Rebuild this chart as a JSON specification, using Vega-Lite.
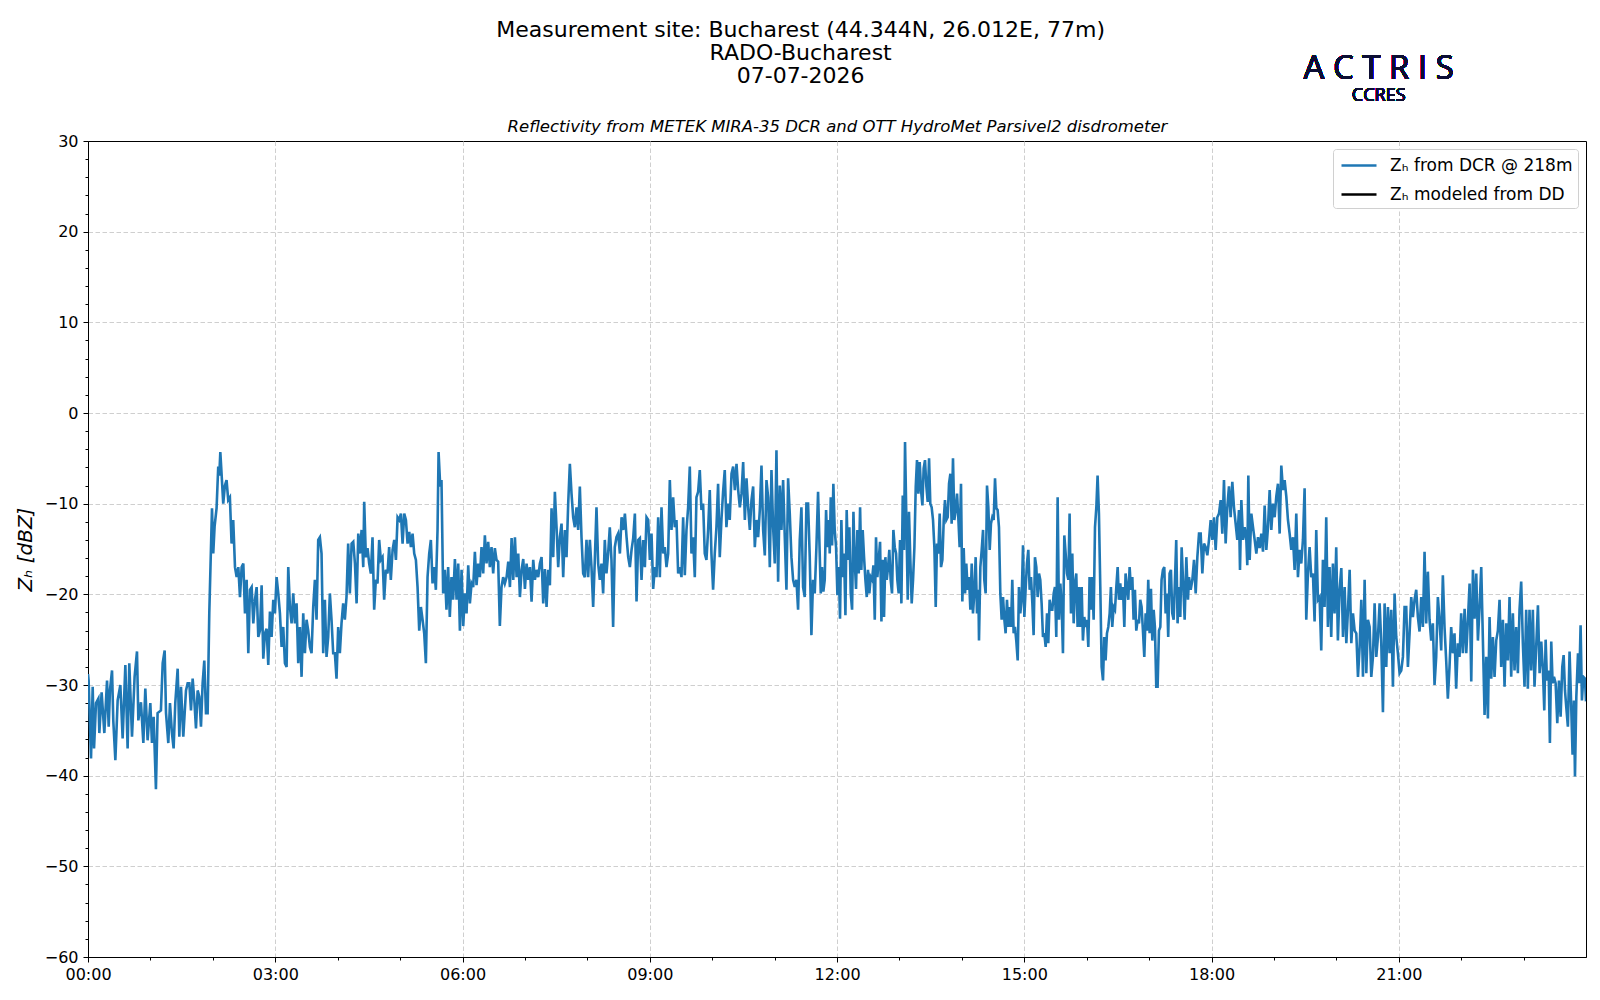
{
  "$schema": "https://vega.github.io/schema/vega-lite/v6.json",
  "width": 1498,
  "height": 816,
  "autosize": "none",
  "padding": {"left": 88, "top": 141, "right": 14, "bottom": 43},
  "background": "white",
  "title": {
    "text": ["Measurement site: Bucharest (44.344N, 26.012E, 77m)", "RADO-Bucharest", "07-07-2026"],
    "anchor": "middle",
    "frame": "bounds",
    "baseline": "bottom",
    "font": "DejaVu Sans",
    "fontSize": 22,
    "fontWeight": "normal",
    "lineHeight": 23,
    "color": "black",
    "offset": -56.5
  },
  "config": {
    "font": "DejaVu Sans",
    "view": {"stroke": "black", "strokeWidth": 1},
    "axis": {
      "labelFont": "DejaVu Sans",
      "titleFont": "DejaVu Sans",
      "labelColor": "black",
      "titleColor": "black",
      "tickColor": "black",
      "domainColor": "black",
      "gridColor": "#cfcfcf",
      "gridDash": [4.5, 2.5],
      "gridWidth": 1
    }
  },
  "data": {
    "values": [
      {"m":0,"v":-28.8},{"m":0.6,"v":-29.5},{"m":2.9,"v":-38.1},{"m":4.5,"v":-30.2},{"m":5.8,"v":-37.0},{"m":7.7,"v":-32.0},{"m":10.0,"v":-31.5},{"m":10.9,"v":-35.3},{"m":13.1,"v":-30.8},{"m":15.7,"v":-35.3},{"m":18.3,"v":-29.5},{"m":19.9,"v":-34.6},{"m":21.1,"v":-30.6},{"m":23.1,"v":-28.4},{"m":24.3,"v":-33.9},{"m":26.3,"v":-38.3},{"m":28.5,"v":-31.7},{"m":31.1,"v":-30.0},{"m":33.3,"v":-35.9},{"m":35.9,"v":-27.8},{"m":38.1,"v":-37.0},{"m":39.7,"v":-27.6},{"m":42.3,"v":-35.7},{"m":44.8,"v":-29.1},{"m":47.1,"v":-26.3},{"m":48.4,"v":-33.9},{"m":50.9,"v":-31.9},{"m":53.2,"v":-36.4},{"m":55.1,"v":-30.4},{"m":57.3,"v":-36.1},{"m":59.9,"v":-32.0},{"m":61.5,"v":-36.4},{"m":63.1,"v":-33.5},{"m":65.3,"v":-41.5},{"m":66.9,"v":-33.1},{"m":70.1,"v":-32.8},{"m":71.8,"v":-27.6},{"m":73.7,"v":-26.2},{"m":75.0,"v":-33.1},{"m":77.2,"v":-36.4},{"m":78.8,"v":-32.0},{"m":80.7,"v":-35.3},{"m":82.3,"v":-37.0},{"m":83.9,"v":-32.0},{"m":86.2,"v":-28.2},{"m":87.8,"v":-35.7},{"m":89.4,"v":-30.2},{"m":91.6,"v":-35.7},{"m":94.2,"v":-30.6},{"m":95.8,"v":-29.8},{"m":97.4,"v":-29.8},{"m":99.0,"v":-32.8},{"m":100.6,"v":-29.3},{"m":102.2,"v":-31.7},{"m":103.8,"v":-34.8},{"m":105.4,"v":-30.6},{"m":107.0,"v":-31.3},{"m":108.6,"v":-34.6},{"m":110.2,"v":-29.8},{"m":111.8,"v":-27.3},{"m":113.4,"v":-33.1},{"m":115.0,"v":-33.1},{"m":116.6,"v":-22.0},
      {"m":119.2,"v":-10.5},{"m":120.4,"v":-15.5},{"m":121.7,"v":-12.5},{"m":123.6,"v":-10.5},{"m":125.2,"v":-5.9},{"m":126.2,"v":-6.9},{"m":127.2,"v":-4.3},{"m":128.4,"v":-6.7},{"m":130.0,"v":-10.0},{"m":131.6,"v":-8.0},{"m":133.2,"v":-7.4},{"m":134.8,"v":-9.6},{"m":136.4,"v":-9.3},{"m":138.0,"v":-14.4},{"m":139.6,"v":-11.8},{"m":141.3,"v":-17.0},{"m":142.9,"v":-18.1},{"m":144.5,"v":-17.0},{"m":146.1,"v":-20.3},{"m":147.7,"v":-17.0},{"m":149.3,"v":-16.6},{"m":150.9,"v":-22.1},{"m":152.5,"v":-18.4},{"m":154.1,"v":-26.5},{"m":155.7,"v":-19.5},{"m":157.3,"v":-19.2},{"m":158.9,"v":-23.2},{"m":160.5,"v":-20.6},{"m":162.1,"v":-19.2},{"m":163.7,"v":-24.7},{"m":165.3,"v":-24.0},{"m":166.9,"v":-19.0},{"m":168.5,"v":-27.1},{"m":170.1,"v":-24.3},{"m":171.7,"v":-23.8},{"m":173.3,"v":-27.8},{"m":174.9,"v":-21.9},{"m":176.5,"v":-24.7},{"m":178.1,"v":-20.6},{"m":179.7,"v":-22.1},{"m":181.3,"v":-18.1},{"m":182.9,"v":-19.9},{"m":184.5,"v":-22.1},{"m":186.1,"v":-25.8},{"m":187.7,"v":-23.6},{"m":189.3,"v":-27.6},{"m":190.9,"v":-28.0},{"m":192.5,"v":-17.0},{"m":194.1,"v":-21.4},{"m":195.7,"v":-23.2},{"m":197.3,"v":-19.9},{"m":198.9,"v":-23.2},{"m":200.5,"v":-21.0},{"m":202.1,"v":-27.6},{"m":203.7,"v":-23.6},{"m":205.3,"v":-29.1},{"m":206.9,"v":-22.1},{"m":208.5,"v":-26.5},{"m":210.1,"v":-22.8},{"m":211.7,"v":-24.0},{"m":213.3,"v":-25.8},{"m":214.9,"v":-26.5},{"m":216.5,"v":-21.4},{"m":218.1,"v":-18.4},{"m":219.7,"v":-22.8},{"m":221.3,"v":-14.0},{"m":222.9,"v":-13.7},{"m":224.5,"v":-15.5},{"m":226.1,"v":-26.5},{"m":227.7,"v":-20.6},{"m":229.3,"v":-26.9},{"m":230.9,"v":-24.7},{"m":232.5,"v":-19.9},{"m":234.1,"v":-22.8},{"m":235.7,"v":-26.5},{"m":237.3,"v":-26.5},{"m":238.9,"v":-29.3},{"m":240.5,"v":-23.6},{"m":242.1,"v":-26.5},{"m":243.7,"v":-23.2},{"m":245.3,"v":-21.0},{"m":246.9,"v":-22.8},{"m":248.5,"v":-20.3},{"m":250.1,"v":-14.4},{"m":251.7,"v":-19.9},{"m":253.4,"v":-14.4},{"m":255.0,"v":-14.2},{"m":256.6,"v":-16.6},{"m":258.2,"v":-21.0},{"m":259.8,"v":-13.3},{"m":261.4,"v":-15.5},{"m":263.0,"v":-12.9},{"m":264.6,"v":-17.0},{"m":265.5,"v":-9.8},{"m":267.1,"v":-15.9},{"m":268.7,"v":-14.9},{"m":270.3,"v":-16.6},{"m":271.9,"v":-17.7},{"m":273.5,"v":-13.7},{"m":275.1,"v":-21.7},{"m":276.7,"v":-18.4},{"m":278.3,"v":-18.8},{"m":279.9,"v":-14.0},{"m":281.5,"v":-16.2},{"m":283.1,"v":-15.9},{"m":284.7,"v":-20.6},{"m":286.3,"v":-17.3},{"m":287.9,"v":-17.7},{"m":289.5,"v":-14.8},{"m":291.1,"v":-18.4},{"m":292.8,"v":-15.1},{"m":294.4,"v":-14.0},{"m":296.0,"v":-16.2},{"m":297.6,"v":-11.5},{"m":299.2,"v":-11.8},{"m":300.8,"v":-11.1},{"m":302.4,"v":-14.4},{"m":304.0,"v":-11.1},{"m":305.6,"v":-11.8},{"m":307.2,"v":-14.4},{"m":308.8,"v":-13.1},{"m":310.4,"v":-14.8},{"m":312.0,"v":-13.3},{"m":313.6,"v":-15.5},{"m":315.2,"v":-16.2},{"m":316.8,"v":-19.2},{"m":318.4,"v":-24.0},{"m":320.0,"v":-21.4},{"m":321.6,"v":-22.8},{"m":323.2,"v":-24.3},{"m":324.8,"v":-27.6},{"m":326.4,"v":-18.1},{"m":328.0,"v":-15.5},{"m":329.6,"v":-14.0},{"m":331.2,"v":-18.8},{"m":332.8,"v":-17.0},{"m":334.4,"v":-19.5},{"m":336.0,"v":-12.9},{"m":337.0,"v":-4.3},{"m":338.6,"v":-8.1},{"m":339.8,"v":-7.4},{"m":341.4,"v":-19.9},{"m":343.0,"v":-17.3},{"m":344.6,"v":-21.7},{"m":346.2,"v":-17.0},{"m":347.8,"v":-22.5},{"m":349.4,"v":-18.1},{"m":351.0,"v":-20.6},
      {"m":352.7,"v":-16.1},{"m":354.3,"v":-20.6},{"m":355.9,"v":-16.6},{"m":357.5,"v":-24.0},{"m":359.1,"v":-17.3},{"m":360.7,"v":-23.5},{"m":362.3,"v":-19.9},{"m":363.9,"v":-22.1},{"m":365.5,"v":-16.8},{"m":367.1,"v":-21.0},{"m":368.7,"v":-18.8},{"m":370.3,"v":-19.2},{"m":371.9,"v":-15.3},{"m":373.5,"v":-19.0},{"m":375.1,"v":-16.6},{"m":376.7,"v":-18.1},{"m":378.3,"v":-14.8},{"m":379.9,"v":-17.7},{"m":381.5,"v":-13.5},{"m":383.1,"v":-16.6},{"m":384.7,"v":-14.2},{"m":386.3,"v":-17.0},{"m":387.9,"v":-14.8},{"m":389.5,"v":-17.7},{"m":391.1,"v":-14.9},{"m":392.7,"v":-16.2},{"m":394.3,"v":-16.4},{"m":395.9,"v":-23.5},{"m":397.5,"v":-19.2},{"m":399.1,"v":-18.1},{"m":400.7,"v":-18.8},{"m":402.4,"v":-18.1},{"m":404.0,"v":-16.4},{"m":405.6,"v":-19.2},{"m":407.2,"v":-13.8},{"m":408.8,"v":-18.4},{"m":410.4,"v":-13.7},{"m":412.0,"v":-18.1},{"m":413.6,"v":-15.5},{"m":415.2,"v":-20.3},{"m":416.8,"v":-17.3},{"m":418.4,"v":-16.1},{"m":420.0,"v":-19.4},{"m":421.6,"v":-16.6},{"m":423.2,"v":-18.4},{"m":424.8,"v":-17.0},{"m":426.4,"v":-20.8},{"m":428.0,"v":-16.2},{"m":429.6,"v":-18.4},{"m":431.2,"v":-17.3},{"m":432.8,"v":-18.1},{"m":434.4,"v":-16.6},{"m":436.0,"v":-15.9},{"m":437.6,"v":-21.0},{"m":439.2,"v":-17.2},{"m":440.8,"v":-21.4},{"m":442.4,"v":-17.3},{"m":444.0,"v":-19.0},{"m":445.6,"v":-10.5},{"m":447.2,"v":-15.9},{"m":448.8,"v":-8.7},{"m":450.4,"v":-12.6},{"m":452.0,"v":-17.0},{"m":453.6,"v":-13.7},{"m":455.2,"v":-12.2},{"m":456.8,"v":-18.1},{"m":458.4,"v":-12.9},{"m":460.0,"v":-15.9},{"m":461.6,"v":-10.0},{"m":463.2,"v":-5.6},{"m":464.8,"v":-8.9},{"m":466.4,"v":-11.5},{"m":468.0,"v":-12.6},{"m":469.6,"v":-10.4},{"m":471.2,"v":-12.9},{"m":472.8,"v":-8.1},{"m":474.4,"v":-13.7},{"m":476.0,"v":-17.7},{"m":477.6,"v":-18.1},{"m":479.2,"v":-14.0},{"m":480.8,"v":-18.1},{"m":482.4,"v":-14.0},{"m":484.0,"v":-17.0},{"m":485.6,"v":-21.4},{"m":487.2,"v":-16.2},{"m":488.8,"v":-10.4},{"m":490.4,"v":-16.6},{"m":492.0,"v":-18.4},{"m":493.6,"v":-16.6},{"m":495.2,"v":-19.9},{"m":496.8,"v":-14.0},{"m":498.4,"v":-17.7},{"m":500.0,"v":-15.5},{"m":501.6,"v":-12.6},{"m":503.2,"v":-16.2},{"m":504.8,"v":-23.6},{"m":506.4,"v":-14.8},{"m":508.0,"v":-13.7},{"m":509.6,"v":-13.3},{"m":511.3,"v":-15.5},{"m":512.9,"v":-11.5},{"m":514.5,"v":-12.9},{"m":516.1,"v":-11.1},{"m":517.7,"v":-13.7},{"m":519.3,"v":-15.9},{"m":520.9,"v":-17.0},{"m":522.5,"v":-15.1},{"m":524.1,"v":-13.8},{"m":525.7,"v":-11.1},{"m":527.3,"v":-20.8},{"m":528.9,"v":-14.0},{"m":530.5,"v":-13.8},{"m":532.1,"v":-18.4},{"m":533.7,"v":-14.0},{"m":535.3,"v":-17.0},{"m":536.9,"v":-11.5},{"m":538.5,"v":-11.8},{"m":540.1,"v":-16.2},{"m":541.7,"v":-13.3},{"m":543.3,"v":-19.4},{"m":544.9,"v":-17.0},{"m":546.5,"v":-18.1},{"m":548.1,"v":-11.5},{"m":549.7,"v":-18.1},{"m":551.3,"v":-10.4},{"m":552.9,"v":-15.5},{"m":554.5,"v":-14.8},{"m":556.1,"v":-17.0},{"m":557.7,"v":-15.5},{"m":559.3,"v":-7.4},{"m":560.9,"v":-12.9},{"m":562.5,"v":-9.3},{"m":564.1,"v":-12.6},{"m":565.7,"v":-11.8},{"m":567.3,"v":-17.7},{"m":568.9,"v":-17.0},{"m":570.5,"v":-18.1},{"m":572.1,"v":-11.5},{"m":573.7,"v":-17.9},{"m":575.3,"v":-12.9},{"m":576.9,"v":-10.4},{"m":578.5,"v":-5.9},{"m":580.1,"v":-15.5},{"m":581.7,"v":-13.7},{"m":583.3,"v":-18.1},{"m":584.9,"v":-9.3},{"m":586.5,"v":-8.7},{"m":588.1,"v":-6.3},{"m":589.7,"v":-10.7},{"m":591.3,"v":-10.0},{"m":592.9,"v":-15.5},{"m":594.5,"v":-16.2},{"m":596.1,"v":-12.9},{"m":597.7,"v":-8.5},{"m":599.3,"v":-15.5},{"m":600.9,"v":-19.5},{"m":602.5,"v":-15.5},{"m":604.1,"v":-12.6},{"m":605.7,"v":-7.8},{"m":607.3,"v":-15.9},{"m":608.9,"v":-11.8},{"m":610.5,"v":-8.7},{"m":612.1,"v":-6.3},{"m":613.7,"v":-12.6},{"m":615.3,"v":-10.0},{"m":616.9,"v":-11.8},{"m":618.6,"v":-6.7},{"m":620.2,"v":-5.9},{"m":621.8,"v":-8.5},{"m":623.4,"v":-5.6},{"m":625.0,"v":-8.5},{"m":626.6,"v":-10.4},{"m":628.2,"v":-8.9},{"m":629.8,"v":-5.4},{"m":631.4,"v":-11.8},{"m":633.0,"v":-7.2},{"m":634.6,"v":-10.4},{"m":636.2,"v":-12.9},{"m":637.8,"v":-9.6},{"m":639.4,"v":-8.1},{"m":641.0,"v":-14.8},{"m":642.6,"v":-11.8},{"m":644.2,"v":-13.7},{"m":645.8,"v":-10.7},{"m":647.4,"v":-5.8},{"m":649.0,"v":-12.9},{"m":650.6,"v":-15.7},{"m":652.2,"v":-7.4},{"m":653.8,"v":-9.3},{"m":655.4,"v":-17.0},{"m":657.0,"v":-6.3},{"m":658.6,"v":-12.6},{"m":660.2,"v":-16.6},{"m":661.8,"v":-4.1},{"m":663.4,"v":-18.6},{"m":665.0,"v":-8.0},{"m":666.6,"v":-12.9},{"m":668.2,"v":-7.4},{"m":669.8,"v":-13.7},{"m":671.4,"v":-19.5},{"m":673.0,"v":-7.2},{"m":674.6,"v":-11.1},{"m":676.2,"v":-15.9},{"m":677.8,"v":-18.4},{"m":679.4,"v":-19.2},{"m":681.0,"v":-18.4},{"m":682.6,"v":-21.7},{"m":684.2,"v":-14.0},{"m":685.8,"v":-10.4},{"m":687.4,"v":-19.2},{"m":689.0,"v":-20.3},{"m":690.6,"v":-10.0},{"m":692.2,"v":-10.0},{"m":693.8,"v":-15.9},{"m":695.4,"v":-24.5},{"m":697.0,"v":-18.4},{"m":698.6,"v":-19.9},{"m":700.2,"v":-14.8},{"m":701.8,"v":-8.7},
      {"m":704.4,"v":-19.9},{"m":705.6,"v":-17.0},{"m":706.9,"v":-19.7},{"m":708.2,"v":-18.4},{"m":709.5,"v":-10.7},{"m":710.8,"v":-14.8},{"m":712.1,"v":-11.8},{"m":713.0,"v":-15.5},{"m":714.0,"v":-9.3},{"m":715.3,"v":-14.6},{"m":716.5,"v":-7.8},{"m":717.8,"v":-12.9},{"m":719.1,"v":-14.8},{"m":720.4,"v":-20.1},{"m":721.7,"v":-17.0},{"m":722.9,"v":-22.7},{"m":724.2,"v":-11.8},{"m":725.5,"v":-18.1},{"m":726.8,"v":-15.5},{"m":728.1,"v":-22.3},{"m":729.3,"v":-10.7},{"m":730.6,"v":-16.2},{"m":731.9,"v":-12.6},{"m":733.2,"v":-19.9},{"m":734.5,"v":-21.7},{"m":735.8,"v":-10.9},{"m":737.0,"v":-16.2},{"m":738.3,"v":-19.4},{"m":739.6,"v":-12.9},{"m":740.9,"v":-17.7},{"m":742.2,"v":-10.4},{"m":743.4,"v":-17.3},{"m":744.7,"v":-12.9},{"m":746.0,"v":-15.9},{"m":747.3,"v":-18.4},{"m":748.6,"v":-20.3},{"m":749.8,"v":-17.3},{"m":751.1,"v":-19.9},{"m":752.4,"v":-18.1},{"m":753.7,"v":-18.4},{"m":755.0,"v":-16.8},{"m":756.3,"v":-22.8},{"m":757.5,"v":-13.7},{"m":758.8,"v":-18.1},{"m":760.1,"v":-16.2},{"m":761.4,"v":-14.2},{"m":762.7,"v":-23.0},{"m":763.9,"v":-16.2},{"m":765.2,"v":-22.5},{"m":766.5,"v":-15.9},{"m":767.8,"v":-18.4},{"m":769.1,"v":-17.0},{"m":770.3,"v":-15.1},{"m":771.6,"v":-18.4},{"m":772.9,"v":-19.9},{"m":774.2,"v":-12.9},{"m":775.5,"v":-14.8},{"m":776.8,"v":-15.5},{"m":778.0,"v":-18.4},{"m":779.3,"v":-19.9},{"m":780.6,"v":-14.0},{"m":781.9,"v":-21.0},{"m":783.2,"v":-9.1},{"m":784.4,"v":-15.1},{"m":785.4,"v":-3.2},{"m":786.7,"v":-11.8},{"m":788.0,"v":-20.6},{"m":789.2,"v":-10.9},{"m":790.5,"v":-16.2},{"m":791.8,"v":-21.0},{"m":793.1,"v":-18.4},{"m":794.4,"v":-14.8},{"m":795.7,"v":-8.1},{"m":796.9,"v":-5.2},{"m":798.2,"v":-8.9},{"m":799.5,"v":-5.4},{"m":800.8,"v":-8.5},{"m":802.1,"v":-10.2},{"m":803.3,"v":-6.1},{"m":804.6,"v":-5.2},{"m":805.9,"v":-8.1},{"m":807.2,"v":-9.8},{"m":808.5,"v":-5.0},{"m":809.7,"v":-10.0},{"m":811.0,"v":-10.4},{"m":812.3,"v":-11.8},{"m":813.6,"v":-14.8},{"m":814.9,"v":-21.4},{"m":816.1,"v":-14.4},{"m":817.4,"v":-15.5},{"m":818.7,"v":-11.1},{"m":820.0,"v":-17.0},{"m":821.3,"v":-16.2},{"m":822.6,"v":-11.8},{"m":823.8,"v":-9.6},{"m":825.1,"v":-11.8},{"m":826.4,"v":-11.5},{"m":827.7,"v":-7.8},{"m":829.0,"v":-6.7},{"m":830.2,"v":-12.2},{"m":831.5,"v":-5.0},{"m":832.8,"v":-11.8},{"m":834.1,"v":-10.7},{"m":835.4,"v":-8.9},{"m":836.6,"v":-11.5},{"m":837.9,"v":-14.8},{"m":839.2,"v":-7.8},{"m":840.5,"v":-20.8},{"m":841.8,"v":-14.9},{"m":843.1,"v":-19.9},{"m":844.3,"v":-16.6},{"m":845.6,"v":-19.5},{"m":846.9,"v":-18.1},{"m":848.2,"v":-21.7},{"m":849.5,"v":-16.6},{"m":850.7,"v":-22.1},{"m":852.0,"v":-19.9},{"m":853.3,"v":-15.9},{"m":854.6,"v":-22.1},{"m":855.9,"v":-19.5},{"m":856.5,"v":-25.1},{"m":857.8,"v":-17.0},{"m":859.1,"v":-15.1},{"m":860.4,"v":-12.9},{"m":861.6,"v":-18.4},{"m":862.9,"v":-19.9},{"m":864.2,"v":-8.0},{"m":865.5,"v":-10.4},{"m":866.8,"v":-15.1},{"m":868.0,"v":-12.2},{"m":869.3,"v":-11.5},{"m":870.6,"v":-11.8},{"m":871.9,"v":-7.2},{"m":873.2,"v":-10.5},{"m":874.4,"v":-10.7},{"m":875.7,"v":-12.6},{"m":877.0,"v":-19.9},{"m":878.3,"v":-22.8},{"m":879.6,"v":-20.3},{"m":880.9,"v":-22.8},{"m":882.1,"v":-24.3},{"m":883.4,"v":-20.6},{"m":884.7,"v":-23.6},{"m":886.0,"v":-21.4},{"m":887.3,"v":-23.6},{"m":888.5,"v":-18.4},{"m":889.8,"v":-24.3},{"m":891.1,"v":-23.6},{"m":892.4,"v":-25.2},{"m":893.7,"v":-27.3},{"m":894.9,"v":-19.2},{"m":896.2,"v":-22.1},{"m":897.5,"v":-20.6},{"m":898.8,"v":-14.6},{"m":900.1,"v":-22.5},{"m":901.4,"v":-19.2},{"m":902.6,"v":-16.6},{"m":903.9,"v":-15.1},{"m":905.2,"v":-19.5},{"m":906.5,"v":-18.1},{"m":907.8,"v":-21.0},{"m":909.0,"v":-24.5},{"m":910.3,"v":-15.9},{"m":911.6,"v":-17.0},{"m":912.9,"v":-20.3},{"m":914.2,"v":-17.7},{"m":915.4,"v":-18.4},{"m":916.7,"v":-21.0},{"m":918.0,"v":-24.7},{"m":919.3,"v":-24.3},{"m":920.6,"v":-25.8},{"m":921.9,"v":-22.1},{"m":923.1,"v":-25.4},{"m":924.4,"v":-20.6},{"m":925.7,"v":-21.7},{"m":927.0,"v":-21.7},{"m":928.3,"v":-19.9},{"m":929.5,"v":-19.2},{"m":930.8,"v":-24.7},{"m":932.1,"v":-9.3},{"m":933.4,"v":-22.8},{"m":934.7,"v":-18.8},{"m":936.0,"v":-21.4},{"m":937.2,"v":-26.5},{"m":938.5,"v":-13.5},{"m":939.8,"v":-15.5},{"m":941.1,"v":-17.7},{"m":942.4,"v":-18.4},{"m":943.6,"v":-11.1},{"m":944.9,"v":-22.1},{"m":946.2,"v":-15.5},{"m":947.5,"v":-23.2},{"m":948.8,"v":-18.8},{"m":950.0,"v":-17.7},{"m":951.3,"v":-23.6},{"m":952.6,"v":-19.2},{"m":953.9,"v":-23.6},{"m":955.2,"v":-19.2},{"m":956.4,"v":-25.1},{"m":957.7,"v":-22.5},{"m":959.0,"v":-23.6},{"m":960.3,"v":-22.8},{"m":961.6,"v":-25.8},{"m":962.8,"v":-18.1},{"m":964.1,"v":-21.7},{"m":965.4,"v":-18.1},{"m":966.7,"v":-22.8},{"m":968.0,"v":-12.6},{"m":969.3,"v":-10.4},{"m":970.5,"v":-6.9},{"m":971.8,"v":-11.1},{"m":973.1,"v":-19.2},{"m":974.4,"v":-28.0},{"m":975.7,"v":-29.5},{"m":976.9,"v":-24.7},{"m":978.2,"v":-27.3},{"m":979.5,"v":-24.3},{"m":980.8,"v":-23.6},{"m":982.1,"v":-22.1},{"m":983.3,"v":-19.2},{"m":984.6,"v":-23.6},{"m":985.9,"v":-21.4},{"m":987.2,"v":-21.7},{"m":988.5,"v":-19.2},{"m":989.8,"v":-17.0},{"m":991.0,"v":-20.6},{"m":992.3,"v":-18.8},{"m":993.6,"v":-20.6},{"m":994.9,"v":-19.2},{"m":996.2,"v":-23.6},{"m":997.4,"v":-17.7},{"m":998.7,"v":-19.2},{"m":1000.0,"v":-20.6},{"m":1001.3,"v":-17.0},{"m":1002.6,"v":-19.5},{"m":1003.9,"v":-18.1},{"m":1005.1,"v":-22.8},{"m":1006.4,"v":-19.5},{"m":1007.7,"v":-24.0},{"m":1009.0,"v":-22.8},{"m":1010.3,"v":-23.2},{"m":1011.5,"v":-20.6},{"m":1012.8,"v":-21.4},{"m":1014.1,"v":-24.0},{"m":1015.4,"v":-26.9},{"m":1016.7,"v":-22.1},{"m":1017.9,"v":-24.0},{"m":1019.2,"v":-18.4},{"m":1020.5,"v":-24.3},{"m":1021.8,"v":-19.4},{"m":1023.1,"v":-25.1},{"m":1024.4,"v":-21.7},{"m":1025.6,"v":-23.6},{"m":1026.9,"v":-30.2},{"m":1028.2,"v":-30.2},{"m":1029.5,"v":-24.0},{"m":1030.8,"v":-23.6},{"m":1032.0,"v":-18.4},{"m":1033.3,"v":-17.3},{"m":1034.6,"v":-17.0},{"m":1035.9,"v":-22.1},{"m":1037.2,"v":-19.9},{"m":1038.4,"v":-24.7},{"m":1039.7,"v":-17.7},{"m":1041.0,"v":-17.3},{"m":1042.3,"v":-22.1},{"m":1043.6,"v":-22.8},{"m":1044.9,"v":-18.4},{"m":1046.1,"v":-14.0},{"m":1047.4,"v":-23.2},{"m":1048.7,"v":-19.2},{"m":1050.0,"v":-22.5},{"m":1051.3,"v":-14.8},
      {"m":1054.2,"v":-22.8},{"m":1055.8,"v":-15.9},{"m":1057.4,"v":-20.6},{"m":1058.4,"v":-18.1},{"m":1060.0,"v":-19.5},{"m":1061.6,"v":-18.4},{"m":1063.2,"v":-16.2},{"m":1064.8,"v":-19.9},{"m":1066.4,"v":-15.9},{"m":1068.0,"v":-13.3},{"m":1069.6,"v":-13.3},{"m":1071.2,"v":-17.7},{"m":1072.8,"v":-14.4},{"m":1074.4,"v":-14.8},{"m":1076.0,"v":-15.7},{"m":1077.6,"v":-14.0},{"m":1079.2,"v":-11.8},{"m":1080.8,"v":-14.0},{"m":1082.4,"v":-11.5},{"m":1084.0,"v":-15.1},{"m":1085.6,"v":-11.5},{"m":1087.2,"v":-11.1},{"m":1088.8,"v":-9.6},{"m":1090.4,"v":-13.3},{"m":1092.0,"v":-7.4},{"m":1093.6,"v":-14.4},{"m":1095.2,"v":-10.4},{"m":1096.8,"v":-8.1},{"m":1098.4,"v":-11.5},{"m":1100.0,"v":-7.6},{"m":1101.6,"v":-10.4},{"m":1103.2,"v":-12.2},{"m":1104.8,"v":-14.0},{"m":1106.4,"v":-10.7},{"m":1107.4,"v":-17.3},{"m":1108.7,"v":-9.6},{"m":1110.3,"v":-14.0},{"m":1111.9,"v":-12.6},{"m":1113.5,"v":-14.0},{"m":1114.4,"v":-16.8},{"m":1115.4,"v":-6.9},{"m":1116.7,"v":-16.2},{"m":1118.3,"v":-11.1},{"m":1119.9,"v":-12.6},{"m":1121.5,"v":-14.0},{"m":1123.1,"v":-15.5},{"m":1124.7,"v":-13.7},{"m":1126.3,"v":-14.9},{"m":1127.9,"v":-13.3},{"m":1129.5,"v":-15.3},{"m":1131.1,"v":-10.2},{"m":1132.7,"v":-15.1},{"m":1134.3,"v":-12.6},{"m":1135.9,"v":-8.5},{"m":1137.5,"v":-12.9},{"m":1139.1,"v":-10.0},{"m":1140.7,"v":-11.5},{"m":1142.3,"v":-9.2},{"m":1143.9,"v":-7.8},{"m":1145.5,"v":-13.3},{"m":1147.1,"v":-5.8},{"m":1148.7,"v":-8.5},{"m":1150.3,"v":-7.4},{"m":1151.9,"v":-9.2},{"m":1153.5,"v":-11.8},{"m":1155.1,"v":-13.3},{"m":1156.7,"v":-15.1},{"m":1158.3,"v":-13.7},{"m":1159.9,"v":-17.3},{"m":1161.5,"v":-11.1},{"m":1163.1,"v":-18.1},{"m":1164.7,"v":-15.1},{"m":1166.3,"v":-16.6},{"m":1167.9,"v":-14.0},{"m":1169.5,"v":-8.3},{"m":1171.1,"v":-22.8},{"m":1172.7,"v":-17.7},{"m":1174.3,"v":-14.8},{"m":1175.9,"v":-18.1},{"m":1177.5,"v":-17.7},{"m":1179.1,"v":-23.0},{"m":1180.7,"v":-12.9},{"m":1182.3,"v":-20.6},{"m":1183.9,"v":-20.3},{"m":1185.5,"v":-26.2},{"m":1187.1,"v":-16.2},{"m":1188.7,"v":-21.4},{"m":1190.3,"v":-11.5},{"m":1191.9,"v":-23.6},{"m":1193.5,"v":-17.0},{"m":1195.1,"v":-24.7},{"m":1196.7,"v":-16.6},{"m":1198.3,"v":-22.1},{"m":1199.9,"v":-14.8},{"m":1201.5,"v":-25.1},{"m":1203.1,"v":-19.5},{"m":1204.8,"v":-17.1},{"m":1206.4,"v":-24.7},{"m":1208.0,"v":-19.2},{"m":1209.6,"v":-25.4},{"m":1211.2,"v":-21.7},{"m":1212.8,"v":-17.3},{"m":1214.4,"v":-25.4},{"m":1216.0,"v":-22.1},{"m":1217.6,"v":-24.0},{"m":1219.2,"v":-24.3},{"m":1220.8,"v":-29.1},{"m":1222.4,"v":-25.8},{"m":1224.0,"v":-20.6},{"m":1225.6,"v":-29.1},{"m":1227.2,"v":-18.4},{"m":1228.8,"v":-28.7},{"m":1230.4,"v":-22.8},{"m":1232.0,"v":-23.6},{"m":1233.6,"v":-29.1},{"m":1235.2,"v":-26.9},{"m":1236.8,"v":-21.0},{"m":1238.4,"v":-26.9},{"m":1240.0,"v":-24.7},{"m":1241.6,"v":-21.0},{"m":1243.2,"v":-25.4},{"m":1244.8,"v":-33.0},{"m":1246.4,"v":-21.0},{"m":1248.0,"v":-28.0},{"m":1249.6,"v":-21.4},{"m":1251.2,"v":-26.5},{"m":1252.8,"v":-21.7},{"m":1254.4,"v":-30.2},{"m":1256.0,"v":-19.9},{"m":1257.6,"v":-24.7},{"m":1259.2,"v":-26.5},{"m":1260.8,"v":-28.7},{"m":1262.4,"v":-28.4},{"m":1264.0,"v":-26.9},{"m":1265.6,"v":-21.4},{"m":1267.2,"v":-21.4},{"m":1268.8,"v":-28.0},{"m":1270.4,"v":-24.3},{"m":1272.0,"v":-20.3},{"m":1273.6,"v":-22.5},{"m":1275.2,"v":-20.6},{"m":1276.8,"v":-19.5},{"m":1278.4,"v":-22.5},{"m":1280.0,"v":-24.1},{"m":1281.6,"v":-20.3},{"m":1283.2,"v":-23.6},{"m":1284.8,"v":-15.3},{"m":1286.4,"v":-23.2},{"m":1288.0,"v":-17.5},{"m":1289.6,"v":-22.8},{"m":1291.2,"v":-25.1},{"m":1292.8,"v":-23.2},{"m":1294.4,"v":-30.0},{"m":1296.0,"v":-26.9},{"m":1297.6,"v":-20.3},{"m":1299.2,"v":-22.8},{"m":1300.8,"v":-26.2},{"m":1302.4,"v":-17.9},{"m":1304.0,"v":-23.6},{"m":1305.6,"v":-27.3},{"m":1307.2,"v":-31.5},{"m":1308.8,"v":-28.0},{"m":1310.4,"v":-23.6},{"m":1312.0,"v":-26.5},{"m":1313.6,"v":-24.3},{"m":1315.2,"v":-30.4},{"m":1316.8,"v":-25.4},{"m":1318.4,"v":-26.9},{"m":1320.0,"v":-22.1},{"m":1321.6,"v":-26.5},{"m":1323.3,"v":-21.6},{"m":1324.9,"v":-26.5},{"m":1326.5,"v":-22.8},{"m":1328.1,"v":-18.8},{"m":1329.7,"v":-29.6},{"m":1331.3,"v":-17.3},{"m":1332.9,"v":-22.7},{"m":1334.5,"v":-17.7},{"m":1336.1,"v":-25.1},{"m":1337.7,"v":-21.4},{"m":1339.3,"v":-17.0},{"m":1340.9,"v":-25.1},{"m":1342.5,"v":-33.3},{"m":1344.1,"v":-26.9},{"m":1345.7,"v":-33.7},{"m":1347.3,"v":-22.5},{"m":1348.9,"v":-29.3},{"m":1350.5,"v":-24.7},{"m":1352.1,"v":-29.1},{"m":1353.7,"v":-25.1},{"m":1355.3,"v":-24.0},{"m":1356.9,"v":-20.6},{"m":1358.5,"v":-28.0},{"m":1360.1,"v":-22.8},{"m":1361.7,"v":-30.2},{"m":1363.3,"v":-23.2},{"m":1364.9,"v":-27.3},{"m":1366.5,"v":-20.3},{"m":1368.1,"v":-29.1},{"m":1369.7,"v":-22.1},{"m":1371.3,"v":-28.4},{"m":1372.9,"v":-23.6},{"m":1374.5,"v":-28.7},{"m":1376.1,"v":-21.7},{"m":1377.7,"v":-18.6},{"m":1379.3,"v":-25.4},{"m":1380.9,"v":-30.2},{"m":1382.5,"v":-21.7},{"m":1384.1,"v":-30.4},{"m":1385.7,"v":-21.7},{"m":1387.3,"v":-28.4},{"m":1388.9,"v":-21.7},{"m":1390.5,"v":-30.2},
      {"m":1393.8,"v":-21.2},{"m":1395.4,"v":-28.7},{"m":1397.0,"v":-25.2},{"m":1398.6,"v":-28.4},{"m":1399.9,"v":-32.8},{"m":1401.2,"v":-25.0},{"m":1402.5,"v":-29.5},{"m":1404.1,"v":-28.4},{"m":1405.3,"v":-36.4},{"m":1406.6,"v":-25.2},{"m":1407.9,"v":-29.8},{"m":1409.2,"v":-29.1},{"m":1410.8,"v":-29.8},{"m":1412.4,"v":-34.2},{"m":1414.0,"v":-29.5},{"m":1415.6,"v":-33.5},{"m":1417.2,"v":-28.0},{"m":1418.5,"v":-26.7},{"m":1419.8,"v":-30.6},{"m":1421.0,"v":-32.4},{"m":1422.6,"v":-34.6},{"m":1424.2,"v":-26.3},{"m":1425.8,"v":-32.4},{"m":1427.1,"v":-37.7},{"m":1428.4,"v":-31.7},{"m":1429.4,"v":-40.1},{"m":1430.7,"v":-31.3},{"m":1432.3,"v":-26.5},{"m":1433.5,"v":-29.8},{"m":1434.8,"v":-23.4},{"m":1436.1,"v":-31.7},{"m":1437.4,"v":-29.1},{"m":1439.0,"v":-29.3},{"m":1440,"v":-31.8}
    ]
  },
  "layer": [
    {
      "mark": {"type": "line", "strokeWidth": 2.6, "clip": true},
      "encoding": {
        "x": {
          "field": "m",
          "type": "quantitative",
          "scale": {"domain": [0, 1440], "nice": false, "zero": false},
          "axis": {
            "orient": "bottom",
            "title": null,
            "values": [0,60,120,180,240,300,360,420,480,540,600,660,720,780,840,900,960,1020,1080,1140,1200,1260,1320,1380],
            "tickCount": 100,
            "labelExpr": "datum.value % 180 === 0 ? utcFormat(datum.value * 60000, '%H:%M') : ''",
            "labelFontSize": 16,
            "labelPadding": 4,
            "labelOverlap": false,
            "labelFlush": false,
            "tickSize": {"condition": {"test": "datum.value % 180 === 0", "value": 5}, "value": 3},
            "grid": true,
            "gridOpacity": {"condition": {"test": "datum.value % 180 === 0 && datum.value > 0", "value": 1}, "value": 0}
          }
        },
        "y": {
          "field": "v",
          "type": "quantitative",
          "scale": {"domain": [-60, 30], "nice": false, "zero": false},
          "axis": {
            "title": "Zₕ [dBZ]",
            "titleFontSize": 20,
            "titleFontStyle": "italic",
            "titleFontWeight": "normal",
            "titlePadding": 9,
            "values": [-60,-58,-56,-54,-52,-50,-48,-46,-44,-42,-40,-38,-36,-34,-32,-30,-28,-26,-24,-22,-20,-18,-16,-14,-12,-10,-8,-6,-4,-2,0,2,4,6,8,10,12,14,16,18,20,22,24,26,28,30],
            "tickCount": 100,
            "labelExpr": "datum.value % 10 === 0 ? datum.label : ''",
            "labelFontSize": 16,
            "labelPadding": 5,
            "labelOverlap": false,
            "labelFlush": false,
            "tickSize": {"condition": {"test": "datum.value % 10 === 0", "value": 5}, "value": 3},
            "grid": true,
            "gridOpacity": {"condition": {"test": "datum.value % 10 === 0 && datum.value > -60 && datum.value < 30", "value": 1}, "value": 0}
          }
        },
        "color": {
          "datum": "Zₕ from DCR @ 218m",
          "type": "nominal",
          "scale": {"domain": ["Zₕ from DCR @ 218m", "Zₕ modeled from DD"], "range": ["#1f77b4", "#000000"]},
          "legend": {
            "title": null,
            "orient": "top-right",
            "offset": 8,
            "symbolType": "M-0.8,0H2.7",
            "symbolSize": 400,
            "symbolStrokeWidth": 2.5,
            "labelFontSize": 17,
            "labelColor": "black",
            "labelOffset": 29,
            "labelLimit": 400,
            "rowPadding": 9,
            "padding": 5,
            "strokeColor": "#d0d0d0",
            "fillColor": "white",
            "cornerRadius": 3
          }
        }
      }
    },
    {
      "mark": {"type": "rule", "opacity": 0},
      "encoding": {
        "x": {
          "datum": 0,
          "type": "quantitative",
          "axis": {
            "orient": "top",
            "title": "Reflectivity from METEK MIRA-35 DCR and OTT HydroMet Parsivel2 disdrometer",
            "titleFontSize": 16.5,
            "titleFontStyle": "italic",
            "titleFontWeight": "normal",
            "titlePadding": 7,
            "labels": false,
            "ticks": false,
            "domain": false,
            "grid": false
          }
        }
      }
    },
    {
      "mark": {"type": "text", "text": "A C T R I S", "font": "Open Sans", "fontSize": 33, "color": "#0c0e33", "baseline": "alphabetic", "align": "center", "clip": false},
      "encoding": {
        "x": {"datum": 1240.7, "type": "quantitative", "axis": null},
        "y": {"datum": 36.8, "type": "quantitative", "scale": {"domain": [-60, 30]}}
      }
    },
    {
      "mark": {"type": "text", "text": "CCRES", "font": "Open Sans", "fontSize": 18, "color": "#0c0e33", "baseline": "alphabetic", "align": "center", "clip": false},
      "encoding": {
        "x": {"datum": 1240.7, "type": "quantitative", "axis": null},
        "y": {"datum": 34.4, "type": "quantitative", "scale": {"domain": [-60, 30]}}
      }
    }
  ],
  "resolve": {"axis": {"x": "independent"}}
}
